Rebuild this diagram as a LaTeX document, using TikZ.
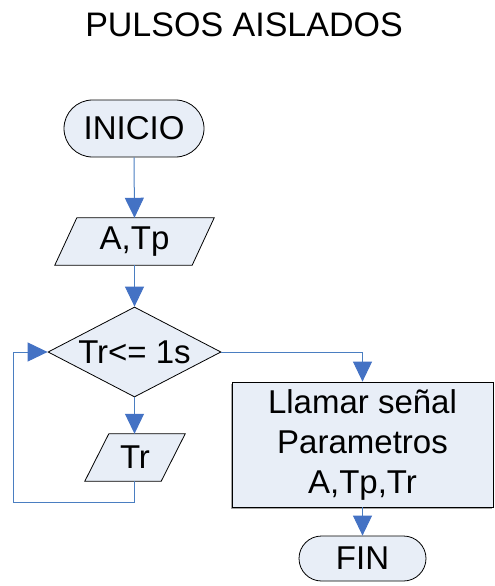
\documentclass[tikz,border=0pt]{standalone}
\usepackage{fontspec}
\setmainfont{Liberation Sans}
\usetikzlibrary{shapes.geometric,arrows.meta,backgrounds}
\definecolor{shapefill}{RGB}{232,238,247}
\definecolor{linkblue}{RGB}{74,126,193}
\definecolor{tipblue}{RGB}{68,114,196}
\tikzset{
  shapetext/.style={font=\fontsize{33}{40}\selectfont, inner sep=0pt},
  term/.style={shapetext, draw=black, fill=shapefill, line width=0.8pt},
  iobox/.style={shapetext},
  iofill/.style={draw=black, fill=shapefill, line width=0.8pt},
  decide/.style={shapetext, diamond, draw=black, fill=shapefill, line width=0.8pt,
    minimum width=173pt, minimum height=90pt, aspect=1.92},
  procbox/.style={shapetext, draw=black, fill=shapefill, line width=0.8pt, align=center,
    minimum width=261pt, minimum height=125pt},
  link/.style={draw=linkblue, line width=1pt,
    -{Triangle[width=19pt,length=20pt,fill=tipblue,color=tipblue]}},
  plainlink/.style={draw=linkblue, line width=1pt}
}
\begin{document}
\begin{tikzpicture}[x=1pt,y=-1pt]
\useasboundingbox (0,0) rectangle (495,586);
\node[font=\fontsize{34}{40}\selectfont, anchor=base, inner sep=0pt] (title) at (244,37) {PULSOS AISLADOS};
\node[term, rounded corners=28.5pt, minimum width=140pt, minimum height=57pt] (start) at (134,128.5) {INICIO};
\node[iobox, minimum width=137pt, minimum height=47pt] (atp) at (134.5,241.5) {A,Tp};
\node[decide] (cond) at (134.5,352) {Tr<= 1s};
\node[iobox, minimum width=76pt, minimum height=47pt] (tr) at (135,457.5) {Tr};
\fill[gray!70] (230.5,383.5) rectangle (491.5,508.5);
\node[procbox] (call) at (362.5,444.5) {Llamar señal\\Parametros\\A,Tp,Tr};
\node[term, rounded corners=22.5pt, minimum width=127pt, minimum height=45pt] (fin) at (362.5,558.5) {FIN};
\begin{scope}[on background layer]
  \draw[iofill] ([xshift=11pt]atp.north west) -- ([xshift=11pt]atp.north east)
    -- ([xshift=-11pt]atp.south east) -- ([xshift=-11pt]atp.south west) -- cycle;
  \draw[iofill] ([xshift=12pt]tr.north west) -- ([xshift=12pt]tr.north east)
    -- ([xshift=-12pt]tr.south east) -- ([xshift=-12pt]tr.south west) -- cycle;
\end{scope}
\coordinate (loopa) at (134.5,502);
\coordinate (loopb) at (13,502);
\coordinate (loopc) at (13,352);
\coordinate (turn) at (362.5,352);
\draw[link] (start.south) -- (atp.north);
\draw[link] (atp.south) -- (cond.north);
\draw[link] (cond.south) -- (cond.south |- tr.north);
\draw[link] (tr.south -| loopa) -- (loopa) -- (loopb) -- (loopc) -- (cond.west);
\draw[link] (cond.east) -- (turn) -- (call.north);
\draw[link] (call.south) -- (fin.north);
\end{tikzpicture}
\end{document}
